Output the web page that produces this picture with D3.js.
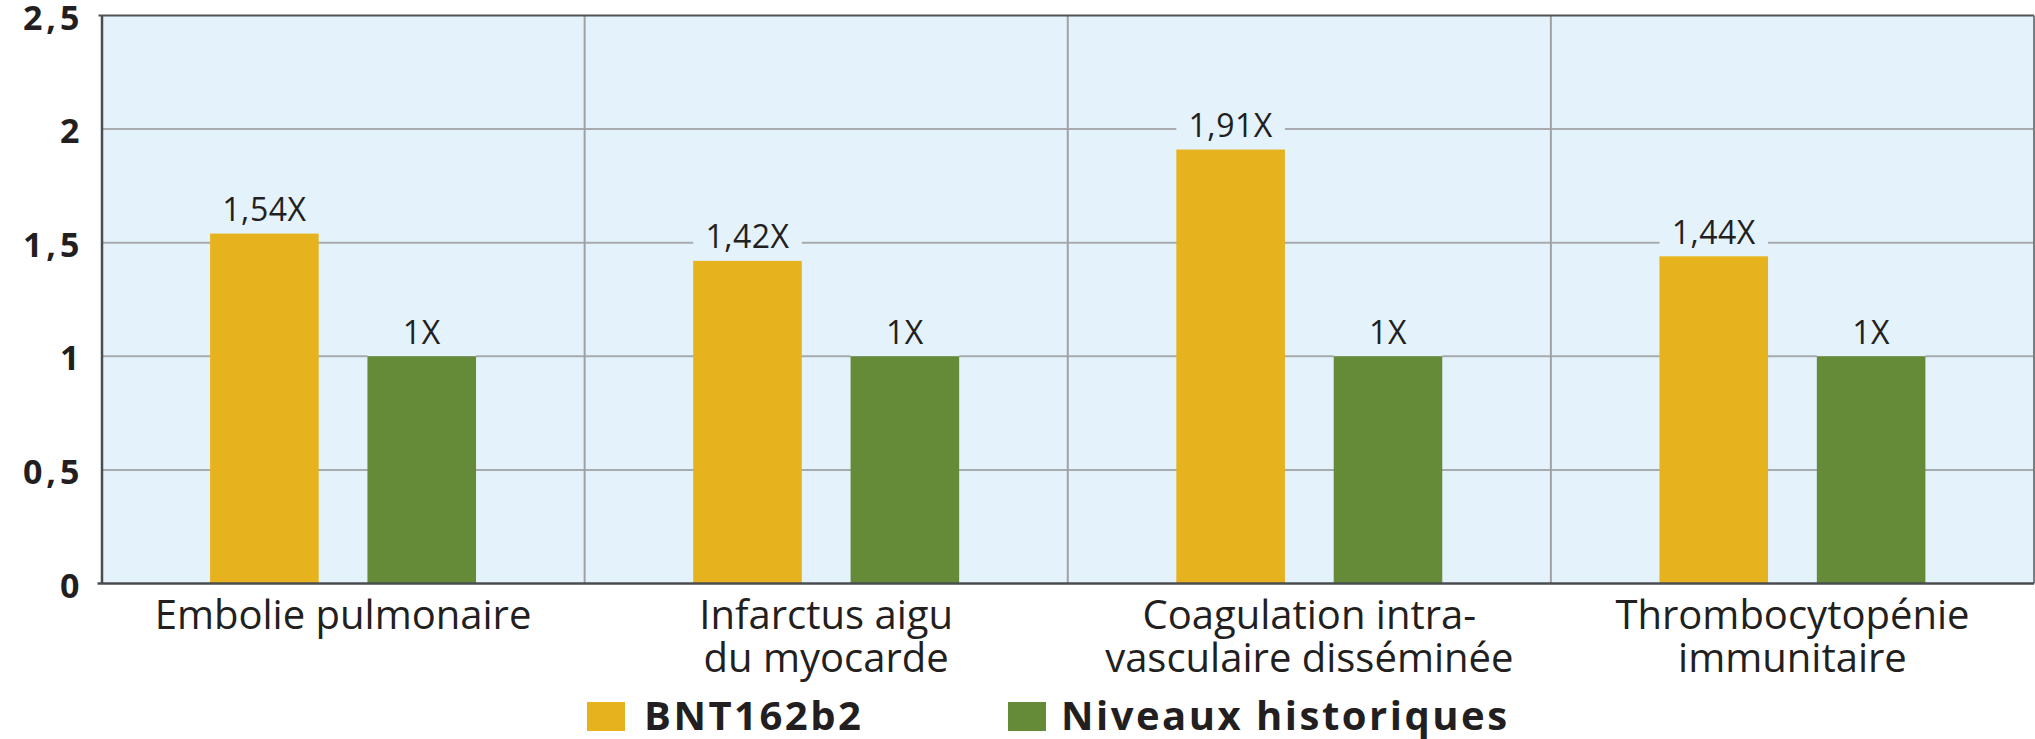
<!DOCTYPE html>
<html>
<head>
<meta charset="utf-8">
<script src="https://cdn.jsdelivr.net/npm/d3@7"></script>
<style>
  html, body { margin: 0; padding: 0; background: #ffffff; }
  svg { display: block; }
</style>
</head>
<body>
<svg id="chart" width="2035" height="739"></svg>
<script>
// ---- Data ----
const categories = [
  ["Embolie pulmonaire"],
  ["Infarctus aigu", "du myocarde"],
  ["Coagulation intra-", "vasculaire disséminée"],
  ["Thrombocytopénie", "immunitaire"]
];
const seriesNames = ["BNT162b2", "Niveaux historiques"];
const bntValues = [1.54, 1.42, 1.91, 1.44];
const historicalValues = [1, 1, 1, 1];
const yTicks = [0, 0.5, 1, 1.5, 2, 2.5];
const seriesColors = ["#E6B21D", "#658A38"];

// ---- Layout ----
const plot = { left: 101.5, right: 2034, top: 15.5, bottom: 583.5 };
const svg = d3.select("#chart");

const fr = d3.formatLocale({ decimal: ",", thousands: " ", grouping: [3], currency: ["", "€"] });
const fmtTick = fr.format("~g");
const fmtVal = fr.format(".2~f");

const catKeys = categories.map(c => c.join(" "));
const x = d3.scaleBand().domain(catKeys).range([plot.left, plot.right]).paddingInner(0).paddingOuter(0);
const xs = d3.scaleBand().domain(seriesNames).range([0, x.bandwidth()]).paddingInner(0.31).paddingOuter(0.69);
const y = d3.scaleLinear().domain([0, 2.5]).range([plot.bottom, plot.top]);

const rows = catKeys.map((k, i) => ({
  key: k,
  lines: categories[i],
  vals: [
    { s: seriesNames[0], v: bntValues[i], c: seriesColors[0] },
    { s: seriesNames[1], v: historicalValues[i], c: seriesColors[1] }
  ]
}));

// background
svg.append("rect")
  .attr("x", plot.left).attr("y", plot.top)
  .attr("width", plot.right - plot.left).attr("height", plot.bottom - plot.top)
  .attr("fill", "#E4F2FC");

// horizontal gridlines
svg.append("g").selectAll("line")
  .data(yTicks.filter(t => t > 0 && t < 2.5))
  .join("line")
  .attr("x1", plot.left).attr("x2", plot.right)
  .attr("y1", d => y(d)).attr("y2", d => y(d))
  .attr("stroke", "#A7ABAE").attr("stroke-width", 2);

// vertical separators
svg.append("g").selectAll("line")
  .data(catKeys.slice(1))
  .join("line")
  .attr("x1", d => x(d)).attr("x2", d => x(d))
  .attr("y1", plot.top).attr("y2", plot.bottom)
  .attr("stroke", "#9EA2A5").attr("stroke-width", 2);

const groups = svg.append("g").selectAll("g")
  .data(rows)
  .join("g")
  .attr("transform", d => `translate(${x(d.key)},0)`);

// label knock-out backgrounds
groups.selectAll("rect.bgl")
  .data(d => d.vals)
  .join("rect")
  .attr("class", "bgl")
  .attr("x", d => xs(d.s))
  .attr("width", xs.bandwidth())
  .attr("y", d => y(d.v) - 38)
  .attr("height", 38)
  .attr("fill", "#E4F2FC");

// bars
groups.selectAll("rect.bar")
  .data(d => d.vals)
  .join("rect")
  .attr("class", "bar")
  .attr("x", d => xs(d.s))
  .attr("width", xs.bandwidth())
  .attr("y", d => y(d.v))
  .attr("height", d => y(0) - y(d.v))
  .attr("fill", d => d.c);

// value labels
groups.selectAll("text.val")
  .data(d => d.vals)
  .join("text")
  .attr("class", "val")
  .attr("x", d => xs(d.s) + xs.bandwidth() / 2)
  .attr("y", d => y(d.v) - 12.5)
  .attr("text-anchor", "middle")
  .attr("font-family", "'Open Sans', sans-serif")
  .attr("font-size", 32)
  .attr("letter-spacing", "0.5px")
  .attr("fill", "#231F20")
  .text(d => fmtVal(d.v) + "X");

// frame: top and right
svg.append("line").attr("x1", plot.left - 3).attr("x2", plot.right).attr("y1", plot.top).attr("y2", plot.top)
  .attr("stroke", "#505356").attr("stroke-width", 2);
svg.append("line").attr("x1", plot.right).attr("x2", plot.right).attr("y1", plot.top).attr("y2", plot.bottom)
  .attr("stroke", "#7A7E82").attr("stroke-width", 2);

// y axis
const yAxis = d3.axisLeft(y).tickValues(yTicks).tickSize(0).tickPadding(0).tickFormat(fmtTick);
const gy = svg.append("g").attr("transform", `translate(${plot.left},0)`).call(yAxis);
gy.select(".domain").attr("stroke", "#4A4D50").attr("stroke-width", 2.5);
gy.selectAll(".tick text")
  .attr("x", -18)
  .attr("dy", "0.4em")
  .attr("font-family", "'Open Sans', sans-serif")
  .attr("font-weight", "bold")
  .attr("font-size", 34)
  .attr("letter-spacing", "4px")
  .attr("fill", "#231F20");

// x axis
const xAxis = d3.axisBottom(x).tickSize(0).tickFormat("");
const gx = svg.append("g").attr("transform", `translate(0,${plot.bottom})`).call(xAxis);
gx.select(".domain").attr("stroke", "#4A4D50").attr("stroke-width", 2.5)
  .attr("d", `M${plot.left - 4},0H${plot.right}`);
gx.selectAll(".tick").each(function(d, i) {
  const t = d3.select(this).select("text")
    .attr("y", 0).attr("dy", null)
    .attr("font-family", "'Open Sans', sans-serif")
    .attr("font-size", 40)
    .attr("fill", "#231F20")
    .attr("text-anchor", "middle");
  categories[i].forEach((ln, j) => {
    t.append("tspan").attr("x", 0).attr("y", 45 + j * 43).text(ln);
  });
});

// legend
const legendX = [587, 1008];
const legend = svg.append("g").selectAll("g")
  .data(seriesNames)
  .join("g")
  .attr("transform", (d, i) => `translate(${legendX[i]},0)`);
legend.append("rect")
  .attr("x", 0).attr("y", 702).attr("width", 38).attr("height", 29)
  .attr("fill", (d, i) => seriesColors[i]);
legend.append("text")
  .attr("x", (d, i) => i === 0 ? 57 : 53)
  .attr("y", 730)
  .attr("font-family", "'Open Sans', sans-serif")
  .attr("font-weight", "bold")
  .attr("font-size", 40)
  .attr("letter-spacing", "2.5px")
  .attr("fill", "#231F20")
  .text(d => d);
</script>
</body>
</html>
